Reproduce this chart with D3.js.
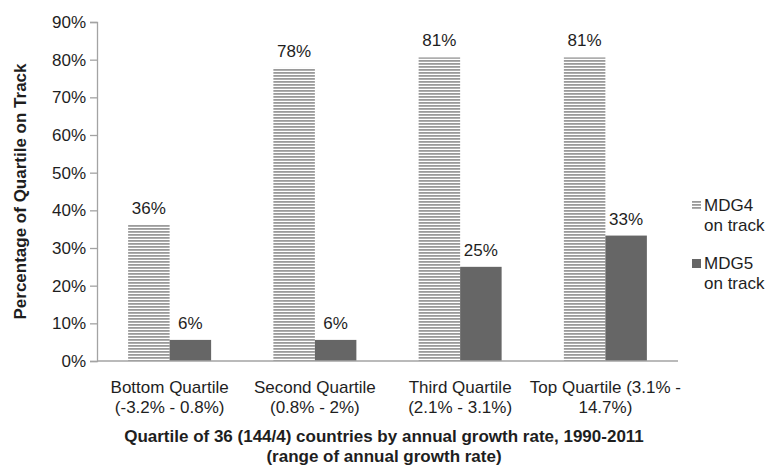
<!DOCTYPE html>
<html>
<head>
<meta charset="utf-8">
<script src="https://cdn.jsdelivr.net/npm/d3@7"></script>
<style>
  body { margin: 0; background: #fff; }
  svg { display: block; font-family: "Liberation Sans", Arial, sans-serif; }
</style>
</head>
<body>
<svg id="chart" width="769" height="470"></svg>
<script>
// ---- data ----
const categories = ["Bottom Quartile", "Second Quartile", "Third Quartile", "Top Quartile"];
const categoryLine1 = ["Bottom Quartile", "Second Quartile", "Third Quartile", "Top Quartile (3.1% -"];
const categoryLine2 = ["(-3.2% - 0.8%)", "(0.8% - 2%)", "(2.1% - 3.1%)", "14.7%)"];
const seriesNames = ["MDG4", "MDG5"];
const legendLine2 = ["on track", "on track"];
const mdg4Values = [36.1, 77.8, 80.6, 80.6];
const mdg5Values = [5.6, 5.6, 25.0, 33.3];
const yTicks = [0, 10, 20, 30, 40, 50, 60, 70, 80, 90];
const yTitle = "Percentage of Quartile on Track";
const xTitle1 = "Quartile of 36 (144/4) countries by annual growth rate, 1990-2011";
const xTitle2 = "(range of annual growth rate)";

const seriesValues = [mdg4Values, mdg5Values];

(function () {
const svg = d3.select("#chart");
const defs = svg.append("defs");
const pat = defs.append("pattern")
  .attr("id", "hatch").attr("patternUnits", "userSpaceOnUse")
  .attr("width", 6).attr("height", 3);
pat.append("rect").attr("width", 6).attr("height", 3).attr("fill", "#ffffff");
pat.append("rect").attr("y", 0).attr("width", 6).attr("height", 1.8).attr("fill", "#9a9a9a");

const fills = ["url(#hatch)", "#666666"];

const mLeft = 97, mRight = 678, mTop = 22, mBottom = 361;
const fs = "17px";

const y = d3.scaleLinear().domain([0, 90]).range([mBottom, mTop]);
const x0 = d3.scaleBand().domain(categories).range([mLeft, mRight])
  .paddingInner(3 / 7).paddingOuter(1.5 / 7);
const x1 = d3.scaleBand().domain(seriesNames).range([0, x0.bandwidth()]).padding(0);

const axisColor = "#a3a3a3";
const textColor = "#1e1e1e";

// Y axis
const yAxis = svg.append("g").attr("transform", `translate(${mLeft},0)`)
  .call(d3.axisLeft(y).tickValues(yTicks).tickFormat(d => d + "%").tickSize(7).tickPadding(4));
yAxis.select(".domain").attr("stroke", axisColor).attr("stroke-width", 1.3);
yAxis.selectAll(".tick line").attr("stroke", axisColor).attr("stroke-width", 1.3);
yAxis.selectAll(".tick text").attr("fill", textColor)
  .style("font-size", fs).style("font-family", "Liberation Sans, Arial, sans-serif");

// bars
const groups = svg.append("g").selectAll("g")
  .data(categories).join("g")
  .attr("transform", d => `translate(${x0(d)},0)`);

groups.selectAll("rect")
  .data((c, i) => seriesNames.map((s, j) => ({ s, j, v: seriesValues[j][i] })))
  .join("rect")
  .attr("x", d => x1(d.s))
  .attr("width", x1.bandwidth())
  .attr("y", d => y(d.v))
  .attr("height", d => y(0) - y(d.v))
  .attr("fill", d => fills[d.j]);

groups.selectAll("text.val")
  .data((c, i) => seriesNames.map((s, j) => ({ s, j, v: seriesValues[j][i] })))
  .join("text").attr("class", "val")
  .attr("x", d => x1(d.s) + x1.bandwidth() / 2)
  .attr("y", d => y(d.v) - 11)
  .attr("text-anchor", "middle")
  .attr("fill", textColor)
  .style("font-size", fs)
  .text(d => Math.round(d.v) + "%");

// X axis line
svg.append("line")
  .attr("x1", mLeft).attr("x2", mRight)
  .attr("y1", y(0)).attr("y2", y(0))
  .attr("stroke", axisColor).attr("stroke-width", 1.3);

// category labels
const catG = svg.append("g");
categories.forEach((c, i) => {
  const cx = x0(c) + x0.bandwidth() / 2;
  const t = catG.append("text").attr("text-anchor", "middle").attr("fill", textColor)
    .style("font-size", fs);
  t.append("tspan").attr("x", cx).attr("y", 393).text(categoryLine1[i]);
  t.append("tspan").attr("x", cx).attr("y", 413).text(categoryLine2[i]);
});

// x title
const xt = svg.append("text").attr("text-anchor", "middle").attr("fill", textColor)
  .style("font-size", fs).style("font-weight", "bold");
xt.append("tspan").attr("x", 384).attr("y", 442).text(xTitle1);
xt.append("tspan").attr("x", 384).attr("y", 462).text(xTitle2);

// y title
svg.append("text")
  .attr("transform", `translate(26,${(mTop + mBottom) / 2}) rotate(-90)`)
  .attr("text-anchor", "middle").attr("fill", textColor)
  .style("font-size", fs).style("font-weight", "bold")
  .text(yTitle);

// legend
const legY = [211, 269];
const leg = svg.append("g");
seriesNames.forEach((s, j) => {
  leg.append("rect").attr("x", 692).attr("y", legY[j] - 10).attr("width", 9).attr("height", 9)
    .attr("fill", fills[j]);
  const t = leg.append("text").attr("fill", textColor).style("font-size", fs);
  t.append("tspan").attr("x", 704).attr("y", legY[j]).text(s);
  t.append("tspan").attr("x", 704).attr("y", legY[j] + 20).text(legendLine2[j]);
});
})();
</script>
</body>
</html>
